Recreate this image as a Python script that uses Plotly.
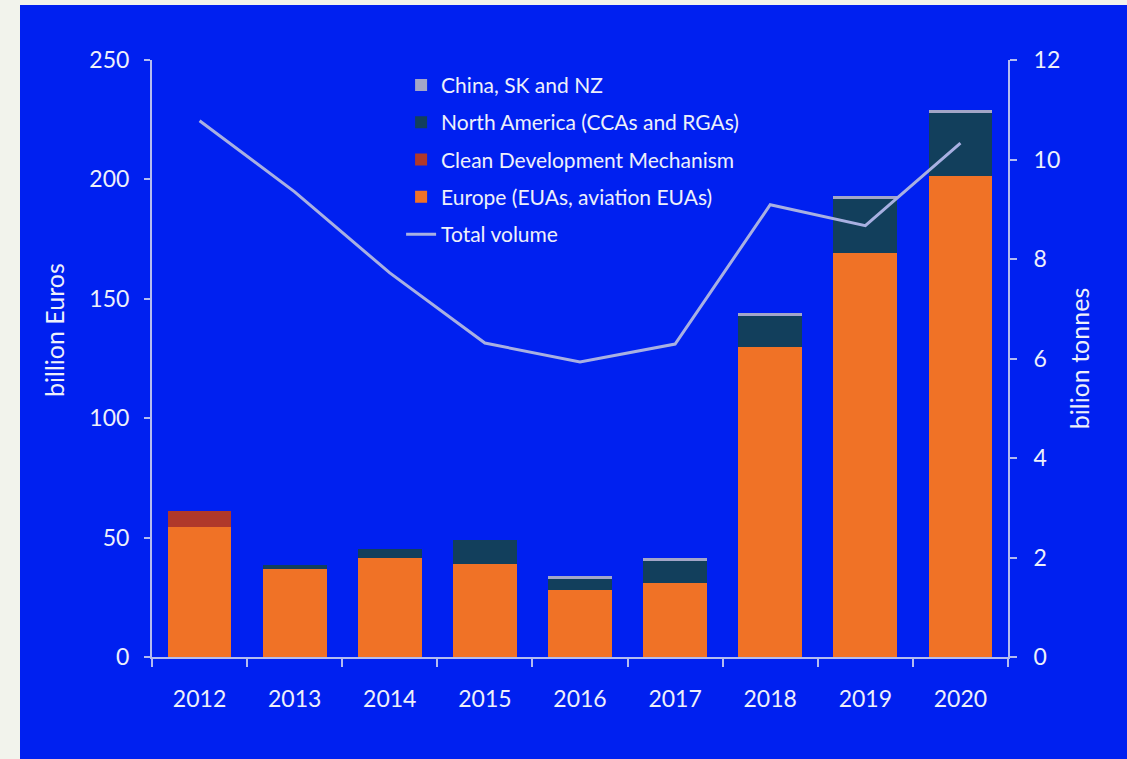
import plotly.graph_objects as go

years = ["2012", "2013", "2014", "2015", "2016", "2017", "2018", "2019", "2020"]
europe = [54.5, 36.7, 41.6, 38.8, 28.0, 31.1, 130.0, 169.0, 201.5]
cdm = [6.8, 0, 0, 0, 0, 0, 0, 0, 0]
north_america = [0, 1.8, 3.6, 10.2, 4.8, 9.1, 12.8, 22.7, 26.2]
china_sk_nz = [0, 0, 0, 0, 1.1, 1.4, 1.1, 1.2, 1.4]
total_volume = [10.78, 9.35, 7.72, 6.31, 5.93, 6.29, 9.09, 8.67, 10.33]

BLUE = "#0020F0"
AXIS = "#B4BCF0"
TEXT = "#EEF0FA"
FONT = "Lato"

fig = go.Figure()
fig.add_trace(go.Bar(x=years, y=europe, name="Europe (EUAs, aviation EUAs)",
                     marker=dict(color="#F07226", line=dict(width=0)),
                     legendrank=4, legendgroup="e"))
fig.add_trace(go.Bar(x=years, y=cdm, name="Clean Development Mechanism",
                     marker=dict(color="#B0382A", line=dict(width=0)),
                     legendrank=3, legendgroup="c"))
fig.add_trace(go.Bar(x=years, y=north_america, name="North America (CCAs and RGAs)",
                     marker=dict(color="#123F5C", line=dict(width=0)),
                     legendrank=2, legendgroup="n"))
fig.add_trace(go.Bar(x=years, y=china_sk_nz, name="China, SK and NZ",
                     marker=dict(color="#A3A6C8", line=dict(width=0)),
                     legendrank=1, legendgroup="g"))
fig.add_trace(go.Scatter(x=years, y=total_volume, name="Total volume", yaxis="y2",
                         mode="lines", line=dict(color="#A8B0E2", width=3),
                         legendrank=5, legendgroup="t"))

fig.update_layout(
    width=1127, height=759,
    margin=dict(l=152, r=119, t=60, b=102),
    paper_bgcolor="#F2F3EC",
    plot_bgcolor="rgba(0,0,0,0)",
    barmode="stack",
    bargap=0.33,
    font=dict(family=FONT, color=TEXT, size=23),
    showlegend=True,
    legend=dict(x=0.291, y=0.992, xanchor="left", yanchor="top",
                bgcolor="rgba(0,0,0,0)", font=dict(size=21, color=TEXT),
                traceorder="grouped", tracegroupgap=7, itemwidth=30),
    xaxis=dict(showline=True, linecolor=AXIS, linewidth=2, ticks="outside",
               tickson="boundaries", ticklen=8, tickcolor=AXIS, tickwidth=2,
               tickfont=dict(size=23, color=TEXT), showgrid=False,
               ticklabelstandoff=20),
    yaxis=dict(range=[0, 250], dtick=50, showline=True, linecolor=AXIS, linewidth=2,
               ticks="outside", ticklen=6, tickcolor=AXIS, tickwidth=2,
               tickfont=dict(size=23, color=TEXT), showgrid=False, zeroline=False,
               ticklabelstandoff=10),
    yaxis2=dict(range=[0, 12], dtick=2, overlaying="y", side="right",
                showline=True, linecolor=AXIS, linewidth=2,
                ticks="outside", ticklen=7, tickcolor=AXIS, tickwidth=2,
                tickfont=dict(size=23, color=TEXT), showgrid=False, zeroline=False,
                ticklabelstandoff=12,
                title=dict(text="bilion tonnes", font=dict(size=25, color=TEXT), standoff=12)),
    shapes=[dict(type="rect", xref="paper", yref="paper", x0=-0.1542, x1=1.16,
                 y0=-0.18, y1=1.0921, fillcolor=BLUE, line=dict(width=0), layer="below")],
    annotations=[dict(text="billion Euros", xref="paper", yref="paper",
                      x=(54 - 152) / 856, y=(657 - 330) / 597, textangle=-90,
                      showarrow=False, xanchor="center", yanchor="middle",
                      font=dict(size=25, color=TEXT, family=FONT))],
)

fig.write_html("out.html", config={"displayModeBar": False},
               post_script="document.body.style.margin='0';")
